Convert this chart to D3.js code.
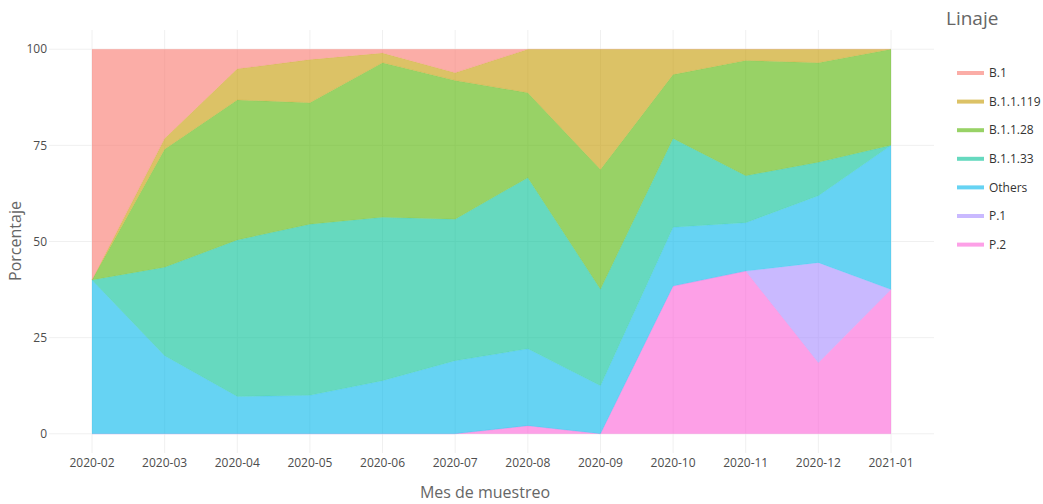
<!DOCTYPE html>
<html><head><meta charset="utf-8">
<script src="https://cdn.jsdelivr.net/npm/d3@7"></script>
<style>body{margin:0;background:#fff}svg{font-family:"Open Sans",sans-serif}</style>
</head><body><svg id="c" width="1043" height="504"></svg>
<script>
const months = ["2020-02","2020-03","2020-04","2020-05","2020-06","2020-07","2020-08","2020-09","2020-10","2020-11","2020-12","2021-01"];
const lineages = ["B.1","B.1.1.119","B.1.1.28","B.1.1.33","Others","P.1","P.2"];
const colors = ["#F8766D","#C49A00","#53B400","#00C094","#00B6EB","#A58AFF","#FB61D7"];
const yTicks = [0,25,50,75,100];
const vB1      = [60,23.2,5.1,2.7,1.0,6.1,0,0,0,0,0,0];
const vB11119  = [0,2.8,8.1,11.2,2.5,2.0,11.3,31.3,6.6,2.9,3.5,0];
const vB1128   = [0,30.7,36.4,31.6,40.2,36.1,22.1,31.1,16.6,30.0,25.9,25.0];
const vB1133   = [0,23.0,40.7,44.5,42.5,36.8,44.5,25.1,23.1,12.2,8.7,0];
const vOthers  = [40,20.3,9.7,10.0,13.8,19.0,20.0,12.5,15.3,12.6,17.4,37.5];
const vP1      = [0,0,0,0,0,0,0,0,0,0,26.0,0];
const vP2      = [0,0,0,0,0,0,2.1,0,38.4,42.3,18.5,37.5];

const series = {"B.1":vB1,"B.1.1.119":vB11119,"B.1.1.28":vB1128,"B.1.1.33":vB1133,"Others":vOthers,"P.1":vP1,"P.2":vP2};
const rows = months.map((m,i)=>{const r={month:m};lineages.forEach(k=>r[k]=series[k][i]);return r;});

const svg = d3.select("#c");
const L=49,R=934,T=30,B=453;
const x = d3.scalePoint().domain(months).range([92,891]);
const y = d3.scaleLinear().domain([-5,105]).range([B,T]);
const color = d3.scaleOrdinal().domain(lineages).range(colors);

// grid
const g = svg.append("g");
g.selectAll(".hg").data(yTicks).join("line").attr("x1",L).attr("x2",R)
 .attr("y1",d=>y(d)).attr("y2",d=>y(d)).attr("stroke","#f0f0f0").attr("stroke-width",1);
g.selectAll(".vg").data(months).join("line").attr("x1",d=>x(d)).attr("x2",d=>x(d))
 .attr("y1",T).attr("y2",B).attr("stroke","#f0f0f0").attr("stroke-width",1);

// stack: first lineage on top
const stackKeys = lineages.slice().reverse();
const stacked = d3.stack().keys(stackKeys)(rows);
const area = d3.area().x(d=>x(d.data.month)).y0(d=>y(d[0])).y1(d=>y(d[1]));
svg.append("g").selectAll("path").data(stacked).join("path")
 .attr("d",area).attr("fill",d=>color(d.key)).attr("fill-opacity",0.6)
 .attr("stroke",d=>color(d.key)).attr("stroke-opacity",0.15).attr("stroke-width",0.5);

// axes labels
svg.append("g").selectAll("text").data(yTicks).join("text")
 .attr("x",47).attr("y",d=>y(d)).attr("dy","0.35em").attr("text-anchor","end")
 .attr("font-size",12).attr("fill","#4d4d4d").text(d=>d);
svg.append("g").selectAll("text").data(months).join("text")
 .attr("x",d=>x(d)).attr("y",467).attr("text-anchor","middle")
 .attr("font-size",12).attr("fill","#4d4d4d").text(d=>d);
svg.append("text").attr("x",485).attr("y",498).attr("text-anchor","middle")
 .attr("font-size",16).attr("fill","#666").text("Mes de muestreo");
svg.append("text").attr("transform","translate(21,241) rotate(-90)").attr("text-anchor","middle")
 .attr("font-size",16).attr("fill","#666").text("Porcentaje");

// legend
svg.append("text").attr("x",946).attr("y",25).attr("font-size",19).attr("fill","#666").text("Linaje");
const lg = svg.append("g").selectAll("g").data(lineages).join("g")
 .attr("transform",(d,i)=>`translate(957,${73+i*28.6})`);
lg.append("line").attr("x1",0).attr("x2",27).attr("y1",0).attr("y2",0)
 .attr("stroke",d=>color(d)).attr("stroke-opacity",0.6).attr("stroke-width",4);
lg.append("text").attr("x",32).attr("y",0).attr("dy","0.35em").attr("font-size",12)
 .attr("fill","#333").text(d=>d);
</script></body></html>
